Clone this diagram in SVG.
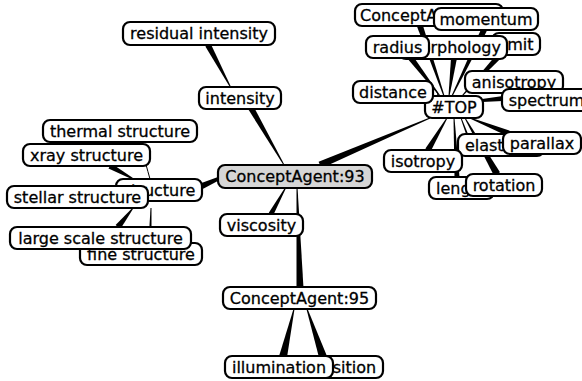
<svg xmlns="http://www.w3.org/2000/svg" width="582" height="381" viewBox="0 0 582 381">
<style>
.n rect{fill:#fff;stroke:#000;stroke-width:2.2}
.n.c rect{fill:#d6d6d6}
.n text{font-family:"DejaVu Sans",sans-serif;font-size:16px;fill:#000;stroke:#000;stroke-width:0.3;text-anchor:middle}
.e polygon{fill:#000;stroke:none}
.e path{fill:none;stroke:#000;stroke-width:1}
</style>
<rect width="582" height="381" fill="#fff"/>
<g id="edges" class="e">
<polygon points="205.4,46.4 230.6,88.2 231.4,87.8 210.6,43.6"/>
<polygon points="248.4,109.5 283.6,165.3 284.4,164.7 253.6,106.5"/>
<polygon points="321.4,168.2 430.2,118.5 429.8,117.5 318.6,161.8"/>
<polygon points="203.2,188.7 220.6,179.4 219.4,176.6 200.8,183.3"/>
<polygon points="273.2,215.2 286.4,187.2 285.6,186.8 268.8,212.8"/>
<polygon points="296.5,288 303.5,288 297.5,187 296.5,187"/>
<polygon points="286.9,357.9 294.5,309.1 293.5,308.9 279.1,356.1"/>
<polygon points="326.8,355.7 307.5,308.8 306.5,309.2 319.2,358.3"/>
<polygon points="108.5,168.6 134.8,180.4 135.2,179.6 111.5,163.4"/>
<path d="M140,142 Q146,165 150,179"/>
<polygon points="120.4,228.9 133.4,208.3 132.6,207.7 115.6,225.1"/>
<polygon points="148.5,243 151.5,243 151.5,208 150.5,208"/>
<polygon points="407.6,58.8 439.6,96.3 440.4,95.7 412.4,55.2"/>
<polygon points="417.2,27 443.5,96.2 444.5,95.8 422.8,25"/>
<polygon points="481.3,28.7 451.5,95.8 452.5,96.2 486.7,31.3"/>
<polygon points="451,58 457,58 449.5,96 448.5,96"/>
<polygon points="497.8,53 461.6,95.7 462.4,96.3 502.2,57"/>
<path d="M432,88 Q438,90 438,97"/>
<polygon points="503,96 503,101 482,102 482,99"/>
<polygon points="430.6,151.5 447.4,118.3 446.6,117.7 425.4,148.5"/>
<polygon points="454.5,177 459.5,177 454.5,118 453.5,118"/>
<polygon points="466,134 468,134 461.5,118 460.5,118"/>
<polygon points="511.1,131.2 470.2,117.5 469.8,118.5 508.9,136.8"/>
<polygon points="500,172.3 465.4,117.8 464.6,118.2 494,175.7"/>
</g>
<g id="n-conceptagent" class="n"><rect x="355" y="4" width="148" height="22" rx="7"/><text x="360" y="21" style="text-anchor:start">ConceptAgent</text></g>
<g id="n-momentum" class="n"><rect x="434" y="8" width="104" height="22" rx="7"/><text x="486" y="25">momentum</text></g>
<g id="n-limit" class="n"><rect x="492" y="33" width="48" height="22" rx="7"/><text x="516" y="50">limit</text></g>
<g id="n-morphology" class="n"><rect x="399" y="36" width="108" height="23" rx="7"/><text x="453" y="53">morphology</text></g>
<g id="n-radius" class="n"><rect x="366" y="36" width="63" height="22" rx="7"/><text x="397.5" y="53">radius</text></g>
<g id="n-anisotropy" class="n"><rect x="465" y="71" width="98" height="22" rx="7"/><text x="514" y="88">anisotropy</text></g>
<g id="n-spectrum" class="n"><rect x="502" y="89" width="89" height="22" rx="7"/><text x="546.5" y="106">spectrum</text></g>
<g id="n-top" class="n"><rect x="425" y="96" width="58" height="22" rx="7"/><text x="454" y="113">#TOP</text></g>
<g id="n-distance" class="n"><rect x="353" y="81" width="80" height="22" rx="7"/><text x="393" y="98">distance</text></g>
<g id="n-elasticity" class="n"><rect x="458" y="134" width="86" height="22" rx="7"/><text x="501" y="151">elasticity</text></g>
<g id="n-parallax" class="n"><rect x="503" y="132" width="78" height="22" rx="7"/><text x="542" y="149">parallax</text></g>
<g id="n-isotropy" class="n"><rect x="384" y="150" width="78" height="22" rx="7"/><text x="423" y="167">isotropy</text></g>
<g id="n-length" class="n"><rect x="429" y="177" width="65" height="22" rx="7"/><text x="461.5" y="194">length</text></g>
<g id="n-rotation" class="n"><rect x="466" y="174" width="76" height="22" rx="7"/><text x="504" y="191">rotation</text></g>
<g id="n-residual-intensity" class="n"><rect x="123" y="22" width="152" height="23" rx="7"/><text x="199" y="39">residual intensity</text></g>
<g id="n-intensity" class="n"><rect x="199" y="87" width="82" height="22" rx="7"/><text x="240" y="104">intensity</text></g>
<g id="n-thermal-structure" class="n"><rect x="43" y="120" width="154" height="22" rx="7"/><text x="120" y="137">thermal structure</text></g>
<g id="n-xray-structure" class="n"><rect x="23" y="144" width="127" height="22" rx="7"/><text x="86.5" y="161">xray structure</text></g>
<g id="n-structure" class="n"><rect x="116" y="179" width="86" height="22" rx="7"/><text x="159" y="196">structure</text></g>
<g id="n-stellar-structure" class="n"><rect x="7" y="186" width="141" height="22" rx="7"/><text x="77.5" y="203">stellar structure</text></g>
<g id="n-fine-structure" class="n"><rect x="80" y="243" width="122" height="22" rx="7"/><text x="141" y="260">fine structure</text></g>
<g id="n-large-scale-structure" class="n"><rect x="10" y="227" width="181" height="22" rx="7"/><text x="100.5" y="244">large scale structure</text></g>
<g id="n-conceptagent-93" class="n c"><rect x="218" y="165" width="154" height="23" rx="7"/><text x="295" y="182">ConceptAgent:93</text></g>
<g id="n-viscosity" class="n"><rect x="220" y="214" width="83" height="22" rx="7"/><text x="261.5" y="231">viscosity</text></g>
<g id="n-conceptagent-95" class="n"><rect x="223" y="287" width="153" height="22" rx="7"/><text x="299.5" y="304">ConceptAgent:95</text></g>
<g id="n-position" class="n"><rect x="306" y="356" width="77" height="22" rx="7"/><text x="344.5" y="373">position</text></g>
<g id="n-illumination" class="n"><rect x="225" y="356" width="108" height="22" rx="7"/><text x="279" y="373">illumination</text></g>
</svg>
